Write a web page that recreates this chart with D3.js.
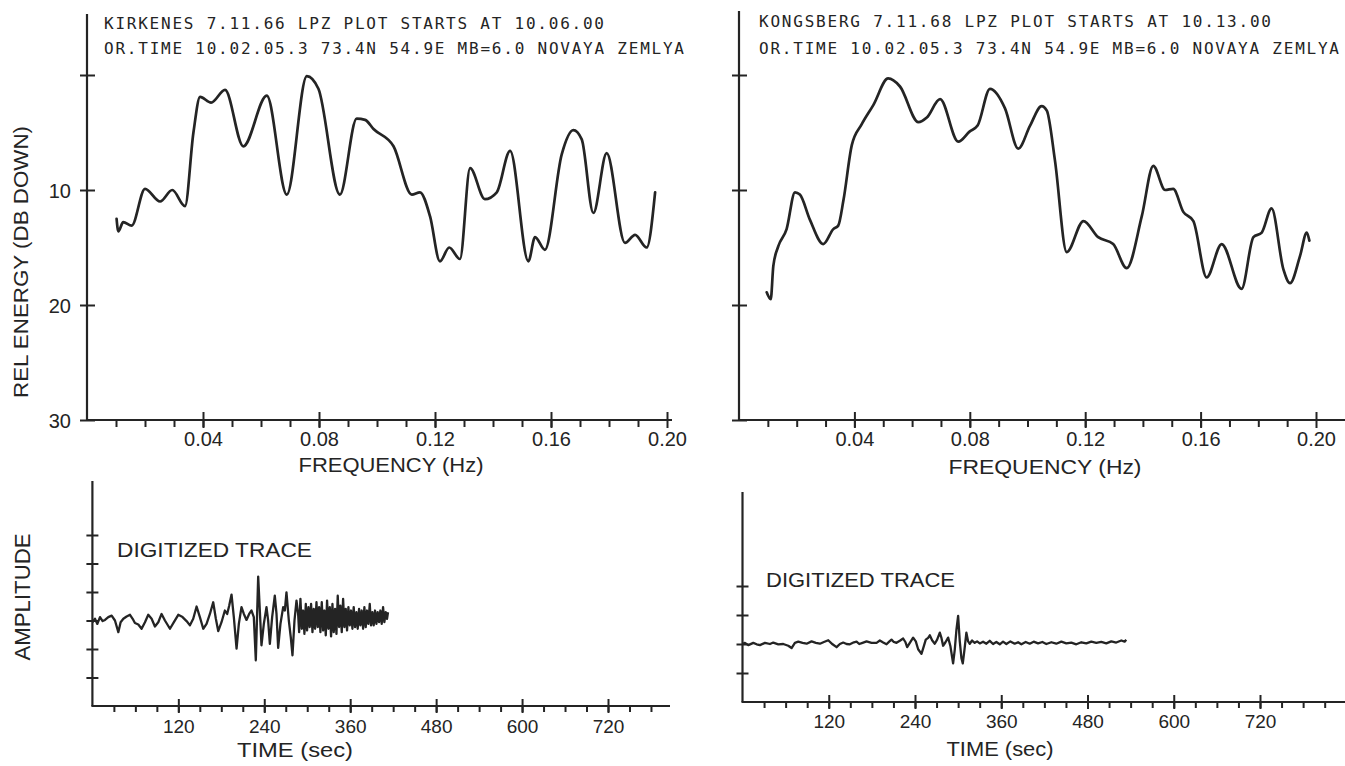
<!DOCTYPE html>
<html>
<head>
<meta charset="utf-8">
<script src="https://cdn.jsdelivr.net/npm/d3@7"></script>
<style>
  body { margin: 0; background: #fff; }
  svg { display: block; }
</style>
</head>
<body>
<script>
// tick labels
var freqTicks = [0.04, 0.08, 0.12, 0.16, 0.20];
var dbTicks = [0, 10, 20, 30];
var timeTicks = [120, 240, 360, 480, 600, 720];

// header lines printed by the plotter
var kirkTitle = ["KIRKENES 7.11.66 LPZ PLOT STARTS AT 10.06.00",
                 "OR.TIME 10.02.05.3 73.4N 54.9E MB=6.0 NOVAYA ZEMLYA"];
var kongTitle = ["KONGSBERG 7.11.68 LPZ PLOT STARTS AT 10.13.00",
                 "OR.TIME 10.02.05.3 73.4N 54.9E MB=6.0 NOVAYA ZEMLYA"];

// spectra: frequency (Hz) and relative energy (dB down)
var kirkFreq = [0.0102, 0.0108, 0.0125, 0.0154, 0.0200, 0.0252, 0.0294, 0.0338, 0.0367, 0.0390,
                0.0428, 0.0476, 0.0539, 0.0620, 0.0689, 0.0758, 0.0798, 0.0872, 0.0930, 0.0959,
                0.0988, 0.1057, 0.1120, 0.1148, 0.1183, 0.1217, 0.1249, 0.1286, 0.1321, 0.1372,
                0.1413, 0.1459, 0.1522, 0.1545, 0.1579, 0.1637, 0.1677, 0.1706, 0.1746, 0.1792,
                0.1855, 0.1890, 0.1930, 0.1959];
var kirkDb = [12.5, 13.6, 12.8, 13.1, 9.9, 11.0, 10.0, 11.4, 5.0, 1.9,
              2.4, 1.3, 6.2, 1.8, 10.4, 0.1, 1.2, 10.4, 3.8, 3.9,
              4.7, 6.2, 10.4, 10.2, 12.3, 16.2, 15.0, 16.0, 8.1, 10.8,
              10.2, 6.6, 16.2, 14.1, 15.2, 6.9, 4.8, 5.6, 12.0, 6.8,
              14.6, 13.9, 15.0, 10.2];

var kongFreq = [0.0096, 0.0110, 0.0119, 0.0136, 0.0165, 0.0194, 0.0211, 0.0246, 0.0292, 0.0327,
                0.0344, 0.0362, 0.0391, 0.0425, 0.0466, 0.0517, 0.0558, 0.0622, 0.0651, 0.0697,
                0.0760, 0.0800, 0.0827, 0.0870, 0.0922, 0.0968, 0.1009, 0.1049, 0.1067, 0.1095,
                0.1136, 0.1194, 0.1245, 0.1297, 0.1344, 0.1396, 0.1436, 0.1477, 0.1505, 0.1540,
                0.1575, 0.1621, 0.1673, 0.1742, 0.1783, 0.1812, 0.1846, 0.1887, 0.1910, 0.1945,
                0.1968, 0.1977];
var kongDb = [18.9, 19.5, 16.6, 14.9, 13.4, 10.2, 10.4, 12.6, 14.7, 13.4,
              13.1, 10.9, 6.1, 4.3, 2.6, 0.3, 1.0, 4.1, 3.7, 2.1,
              5.8, 4.9, 4.4, 1.2, 2.9, 6.4, 4.4, 2.7, 3.1, 7.4,
              15.4, 12.7, 14.1, 14.7, 16.8, 12.3, 7.9, 10.0, 9.9, 11.9,
              12.7, 17.6, 14.7, 18.6, 14.1, 13.7, 11.6, 16.9, 18.1, 15.7,
              13.7, 14.4];

var kirkTime = [0, 3.6, 6.9, 10.6, 14.3, 17.6, 22.2, 26.9, 31.5, 36.2,
                39.4, 43.2, 47.8, 52.5, 56.2, 59.4, 64.1, 68.7, 73.4, 78.0,
                82.7, 87.3, 92.0, 96.6, 101.3, 108.3, 113.8, 119.9, 125.9, 131.5,
                136.2, 140.8, 145.5, 150.1, 154.8, 159.4, 164.1, 168.7, 172.4, 175.7,
                180.3, 185.0, 188.2, 191.0, 194.3, 197.5, 201.3, 204.5, 208.2, 211.5,
                215.2, 218.9, 222.2, 225.4, 228.2, 231.5, 233.8, 236.1, 239.4, 243.1,
                245.4, 247.8, 251.0, 254.7, 257.1, 259.4, 262.6, 266.4, 268.7, 271.0,
                274.3, 277.0, 279.4, 282.2, 285.0, 287.3,
                288.7, 290.5, 292.4, 294.3, 296.1, 298.0, 299.8, 301.7, 303.5, 305.4,
                307.3, 309.1, 311.0, 312.9, 314.7, 316.6, 318.4, 320.3, 322.2, 324.0,
                325.9, 327.7, 329.6, 331.5, 333.3, 335.2, 337.0, 338.9, 340.8, 342.6,
                344.5, 346.3, 348.2, 350.1, 351.9, 353.8, 355.6, 357.5, 359.4, 361.2,
                363.1, 364.9, 366.8, 368.7, 370.5, 372.4, 374.2, 376.1, 378.0, 379.8,
                381.7, 383.5, 385.4, 387.3, 389.1, 391.0, 392.8, 394.7, 396.6, 398.4,
                400.3, 402.1, 404.0, 405.9, 407.7, 409.6, 411.4, 412.8];
var kirkAmp = [-0.06, 0.06, -0.12, 0.12, -0.02, 0.02, 0.12, 0.17, 0, -0.41,
               -0.06, 0.06, 0.14, 0.2, 0.06, -0.09, -0.14, -0.29, -0.06, 0.2,
               0.06, -0.21, -0.06, 0.23, 0, -0.29, -0.06, 0.2, 0.12, -0.02,
               -0.17, 0.06, 0.49, 0.12, -0.29, -0.12, 0.23, 0.64, 0.06, -0.37,
               -0.06, 0.35, 0.23, 0.52, 0.91, 0.12, -0.99, -0.12, 0.47, 0.23,
               0.02, 0.23, 0.35, 0.12, -1.4, 1.54, 0.35, -0.87, -0.12, 0.47,
               0, -0.82, 0.12, 0.87, 0.23, -0.96, -0.12, 0.47, 0.35, 0.99,
               0, -0.58, -1.22, 0, 0.7, 0.23,
               -0.41, 0.76, -0.29, 0.35, -0.47, 0.58, -0.35, 0.47, -0.23, 0.58,
               -0.41, 0.41, -0.29, 0.64, -0.23, 0.47, -0.41, 0.64, -0.35, 0.35,
               -0.52, 0.70, -0.29, 0.47, -0.56, 0.58, -0.41, 0.41, -0.47, 0.87,
               -0.23, 0.52, -0.41, 0.76, -0.23, 0.41, -0.35, 0.47, -0.17, 0.35,
               -0.29, 0.47, -0.23, 0.29, -0.29, 0.41, -0.17, 0.35, -0.29, 0.47,
               -0.23, 0.35, -0.12, 0.58, -0.17, 0.29, -0.17, 0.35, -0.12, 0.29,
               -0.06, 0.35, -0.12, 0.47, -0.06, 0.29, 0.06, 0.29];

var kongTime = [0, 3.4, 8.1, 15.0, 19.7, 24.3, 31.2, 38.2, 42.8, 49.8,
                56.7, 63.7, 68.3, 72.9, 77.6, 83.6, 89.2, 96.1, 102.1, 107.7,
                113.3, 119.3, 125.3, 130.9, 135.5, 140.1, 144.8, 149.4, 155.0, 158.7,
                162.4, 167.0, 172.6, 179.5, 186.5, 191.1, 195.7, 200.4, 204.1, 207.3,
                210.5, 214.3, 218.9, 223.5, 226.8, 229.1, 232.8, 237.4, 241.1, 244.4,
                249.0, 252.2, 255.0, 258.3, 260.6, 263.8, 267.5, 270.8, 274.5, 276.8,
                279.1, 282.4, 286.1, 289.3, 293.0, 295.3, 297.6, 300.0, 302.3, 304.6,
                306.5, 308.8, 311.5, 313.9, 316.2, 319.4, 323.1, 326.4, 330.1, 334.7,
                339.3, 344.0, 348.6, 353.2, 357.9, 362.5, 367.1, 372.7, 378.7, 383.4,
                388.0, 394.0, 399.6, 405.1, 411.2, 417.2, 422.7, 429.7, 436.6, 443.6,
                450.5, 457.5, 464.4, 471.4, 478.3, 485.3, 492.2, 499.2, 506.1, 513.1,
                520.0, 527.0, 531.6, 533.9];
var kongAmp = [0, 0.04, -0.04, 0.04, -0.01, -0.04, 0.04, 0, 0.05, -0.01,
               0, -0.06, -0.14, 0.04, 0.08, 0.04, 0.01, 0.09, 0.04, 0.01,
               0.07, 0.13, -0.01, -0.11, 0, 0.05, 0, -0.01, 0.06, 0.08,
               0, 0.04, 0.09, 0.04, 0.04, 0.12, 0.05, -0.01, 0.08, 0.15,
               0.07, 0.04, 0.11, 0.19, 0.06, -0.11, 0.04, 0.22, 0.09, -0.18,
               -0.34, -0.08, 0.15, 0.21, 0.30, 0.13, 0.01, 0.15, 0.39, 0.21,
               -0.06, 0.06, 0.22, -0.08, -0.67, -0.20, 0.48, 0.97, 0.09, -0.49,
               -0.67, -0.20, 0.39, 0.09, 0.01, 0.12, 0.04, 0.09, 0.02, 0.08,
               0.01, 0.11, 0, 0.07, -0.01, 0.08, 0, 0.09, 0.01, 0.06,
               -0.01, 0.07, 0.01, 0.08, 0.02, 0.07, 0, 0.06, 0.01, 0.08,
               0.02, 0.05, -0.01, 0.06, 0.02, 0.08, 0.04, 0.07, 0.02, 0.09,
               0.05, 0.12, 0.08, 0.15];

var ink = "#242424",
    sans = "'Liberation Sans', Arial, sans-serif",
    mono = "'DejaVu Sans Mono', 'Liberation Mono', monospace";

var svg = d3.select("body").append("svg")
    .attr("width", 1345)
    .attr("height", 766);

svg.append("rect")
    .attr("width", 1345)
    .attr("height", 766)
    .attr("fill", "#fff");

function styleAxis(s) {
  s.select(".domain").remove();
  s.attr("font-family", sans).attr("font-size", 20);
  s.selectAll(".tick line").attr("stroke", ink).attr("stroke-width", 2);
  s.selectAll(".tick text").attr("fill", ink);
}

function label(g, txt, x, y, size, len, rot) {
  var t = g.append("text")
      .attr("font-family", sans)
      .attr("font-size", size)
      .attr("fill", ink)
      .attr("text-anchor", rot || len ? "middle" : "start")
      .text(txt);
  if (len) t.attr("textLength", len).attr("lengthAdjust", "spacingAndGlyphs");
  if (rot) t.attr("transform", "translate(" + x + "," + y + ") rotate(-90)");
  else t.attr("x", x).attr("y", y);
  return t;
}

function spectrum(p) {
  var x = d3.scaleLinear().domain([0, 0.2]).range([p.left, p.right]);
  var y = d3.scaleLinear().domain([0, 30]).range([75, 420]);
  var g = svg.append("g");

  // header text
  p.title.forEach(function(t, i) {
    g.append("text")
        .attr("x", p.titleX)
        .attr("y", p.titleY[i])
        .attr("font-family", mono)
        .attr("font-size", 16)
        .attr("fill", ink)
        .attr("textLength", p.titleLen[i])
        .attr("lengthAdjust", "spacing")
        .text(t);
  });

  g.append("line")
      .attr("x1", x(0)).attr("x2", x(0))
      .attr("y1", p.top).attr("y2", y(30))
      .attr("stroke", ink).attr("stroke-width", 2.2);
  g.append("line")
      .attr("x1", x(0) - 1).attr("x2", p.end)
      .attr("y1", y(30)).attr("y2", y(30))
      .attr("stroke", ink).attr("stroke-width", 2.2);

  g.append("g")
      .attr("transform", "translate(0," + y(30) + ")")
      .call(d3.axisBottom(x).tickValues(d3.range(1, 20).map(function(d) { return d / 100; }))
        .tickSize(7).tickFormat(""))
      .call(styleAxis);

  g.append("g")
      .attr("transform", "translate(0," + y(30) + ")")
      .call(d3.axisBottom(x).tickValues(freqTicks).tickSize(8).tickFormat(d3.format(".2f")))
      .call(styleAxis)
      .call(function(s) {
        s.selectAll(".tick line").attr("y1", -8);
        s.selectAll(".tick text").attr("y", 26).attr("dy", null);
      });

  g.append("g")
      .attr("transform", "translate(" + x(0) + ",0)")
      .call(d3.axisLeft(y).tickValues(dbTicks).tickSize(7).tickPadding(9)
        .tickFormat(function(d) { return p.yLabels && d > 0 ? d : ""; }))
      .call(styleAxis)
      .call(function(s) {
        s.selectAll(".tick line").attr("x1", 8);
        s.selectAll(".tick text").attr("dy", "0.36em");
      });

  var pts = p.freq.map(function(f, i) { return [f, p.db[i]]; });
  g.append("path")
      .datum(pts)
      .attr("d", d3.line()
        .x(function(d) { return x(d[0]); })
        .y(function(d) { return y(d[1]); })
        .curve(d3.curveMonotoneX))
      .attr("fill", "none")
      .attr("stroke", ink)
      .attr("stroke-width", 2.7)
      .attr("stroke-linejoin", "round")
      .attr("stroke-linecap", "round");

  label(g, "FREQUENCY (Hz)", p.fLabel[0], p.fLabel[1], 21, p.fLabel[2]);
  if (p.yTitle) label(g, "REL ENERGY (DB DOWN)", 28, 262, 21, 272, true);
}

function trace(p) {
  var x = d3.scaleLinear().domain([0, 720]).range([p.left, p.right]);
  var y = d3.scaleLinear().domain([-1, 1]).range([p.base + p.unit, p.base - p.unit]);
  var g = svg.append("g");
  var axisY = y(p.amin);

  g.append("line")
      .attr("x1", x(0)).attr("x2", x(0))
      .attr("y1", p.top).attr("y2", axisY)
      .attr("stroke", ink).attr("stroke-width", 2.2);
  g.append("line")
      .attr("x1", x(0) - 1).attr("x2", p.end)
      .attr("y1", axisY).attr("y2", axisY)
      .attr("stroke", ink).attr("stroke-width", 2.2);

  g.append("g")
      .attr("transform", "translate(0," + axisY + ")")
      .call(d3.axisBottom(x).tickValues(d3.range(30, 830, 30)).tickSize(6).tickFormat(""))
      .call(styleAxis)
      .call(function(s) {
        s.selectAll(".tick").filter(function(d) { return x(d) > p.end - 2; }).remove();
      });

  g.append("g")
      .attr("transform", "translate(0," + axisY + ")")
      .call(d3.axisBottom(x).tickValues(timeTicks).tickSize(7).tickFormat(d3.format("d")))
      .call(styleAxis)
      .call(function(s) {
        s.attr("font-size", 19);
        s.selectAll(".tick line").attr("y1", -7);
        s.selectAll(".tick text").attr("y", p.tickY).attr("dy", null);
      });

  g.append("g")
      .attr("transform", "translate(" + x(0) + ",0)")
      .call(d3.axisLeft(y).tickValues(p.yTicks).tickSize(6).tickFormat(""))
      .call(styleAxis)
      .call(function(s) {
        s.selectAll(".tick line").attr("x1", 6);
      });

  var pts = p.time.map(function(t, i) { return [t, p.amp[i]]; });
  g.append("path")
      .datum(pts)
      .attr("d", d3.line()
        .x(function(d) { return x(d[0]); })
        .y(function(d) { return y(d[1]); }))
      .attr("fill", "none")
      .attr("stroke", ink)
      .attr("stroke-width", 2.3)
      .attr("stroke-linejoin", "round");

  label(g, "DIGITIZED TRACE", p.dt[0], p.dt[1], 21, p.dt[2]).attr("text-anchor", "start");
  label(g, "TIME (sec)", p.tLabel[0], p.tLabel[1], 20, p.tLabel[2]);
  if (p.yTitle) label(g, "AMPLITUDE", 30, 597, 22, 127, true);
}

spectrum({
  left: 87, right: 667, top: 14, end: 672,
  freq: kirkFreq, db: kirkDb, yLabels: true, yTitle: true,
  title: kirkTitle, titleX: 104, titleY: [29, 54], titleLen: [500, 580],
  fLabel: [391, 472, 185]
});

spectrum({
  left: 739, right: 1316, top: 11, end: 1345,
  freq: kongFreq, db: kongDb, yLabels: false, yTitle: false,
  title: kongTitle, titleX: 759, titleY: [27, 54], titleLen: [512, 580],
  fLabel: [1045, 474, 193]
});

trace({
  left: 92.4, right: 608, base: 620.5, unit: 28.5, amin: -3, top: 481, end: 670,
  yTicks: [-2, -1, 0, 1, 2, 3], tickY: 27,
  time: kirkTime, amp: kirkAmp, yTitle: true,
  dt: [117, 557, 195], tLabel: [295, 757, 116]
});

trace({
  left: 742.5, right: 1260, base: 644, unit: 29, amin: -2, top: 492, end: 1345,
  yTicks: [-1, 0, 1, 2], tickY: 26,
  time: kongTime, amp: kongAmp, yTitle: false,
  dt: [766, 587, 189], tLabel: [1000, 756, 107]
});
</script>
</body>
</html>
